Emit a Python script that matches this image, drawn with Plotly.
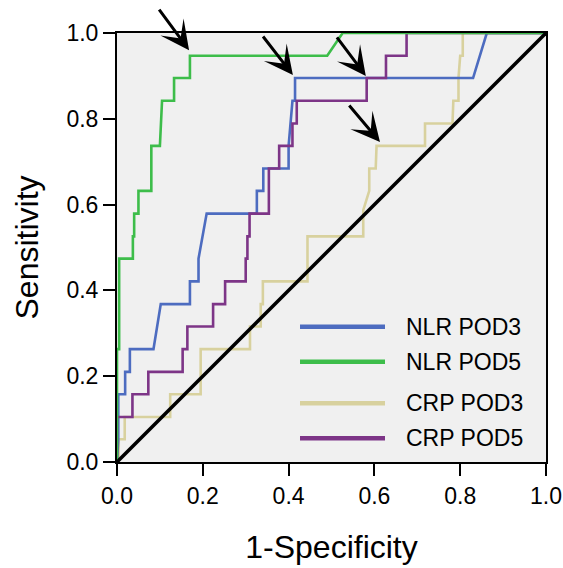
import plotly.graph_objects as go

# ROC curve vertices (1-Specificity, Sensitivity)
nlr_pod3_x = [0, 0.003, 0.003, 0.019, 0.019, 0.03, 0.03, 0.085, 0.102, 0.17, 0.17, 0.19, 0.19, 0.209,
              0.326, 0.326, 0.341, 0.341, 0.40, 0.40, 0.409, 0.415, 0.415, 0.83, 0.862, 1.0]
nlr_pod3_y = [0, 0.053, 0.158, 0.158, 0.21, 0.21, 0.263, 0.263, 0.368, 0.368, 0.421, 0.421, 0.474, 0.579,
              0.579, 0.632, 0.632, 0.684, 0.684, 0.737, 0.842, 0.842, 0.895, 0.895, 1.0, 1.0]

nlr_pod5_x = [0, 0, 0.005, 0.005, 0.037, 0.037, 0.04, 0.04, 0.05, 0.05, 0.08, 0.08, 0.10, 0.105,
              0.133, 0.133, 0.17, 0.17, 0.49, 0.526, 1.0]
nlr_pod5_y = [0, 0.263, 0.263, 0.474, 0.474, 0.526, 0.526, 0.579, 0.579, 0.632, 0.632, 0.737, 0.737, 0.842,
              0.842, 0.895, 0.895, 0.947, 0.947, 1.0, 1.0]

crp_pod3_x = [0, 0.004, 0.004, 0.018, 0.018, 0.124, 0.124, 0.195, 0.195, 0.31, 0.31, 0.335, 0.335, 0.34,
              0.34, 0.444, 0.444, 0.574, 0.574, 0.588, 0.588, 0.603, 0.605, 0.718, 0.718, 0.782, 0.784,
              0.796, 0.796, 0.80, 0.806, 0.806, 1.0]
crp_pod3_y = [0, 0, 0.053, 0.053, 0.105, 0.105, 0.158, 0.158, 0.263, 0.263, 0.316, 0.316, 0.368, 0.368,
              0.421, 0.421, 0.526, 0.526, 0.587, 0.632, 0.684, 0.684, 0.737, 0.737, 0.789, 0.789, 0.842,
              0.842, 0.895, 0.947, 0.947, 1.0, 1.0]

crp_pod5_x = [0, 0, 0.036, 0.036, 0.073, 0.073, 0.153, 0.153, 0.164, 0.164, 0.224, 0.224, 0.252, 0.252,
              0.30, 0.30, 0.304, 0.304, 0.309, 0.309, 0.354, 0.354, 0.378, 0.378, 0.409, 0.409, 0.419,
              0.419, 0.582, 0.582, 0.627, 0.627, 0.675, 0.675, 1.0]
crp_pod5_y = [0, 0.105, 0.105, 0.158, 0.158, 0.21, 0.21, 0.263, 0.263, 0.316, 0.316, 0.368, 0.368, 0.421,
              0.421, 0.474, 0.474, 0.526, 0.526, 0.579, 0.579, 0.684, 0.684, 0.737, 0.737, 0.789, 0.789,
              0.842, 0.842, 0.895, 0.895, 0.947, 0.947, 1.0, 1.0]

ref_x = [0, 1]
ref_y = [0, 1]

series_names = ["NLR POD3", "NLR POD5", "CRP POD3", "CRP POD5"]
series_colors = ["#4d6cc0", "#3dbd4a", "#d8d19e", "#7d3587"]
tick_vals = [0.0, 0.2, 0.4, 0.6, 0.8, 1.0]
tick_text = ["0.0", "0.2", "0.4", "0.6", "0.8", "1.0"]

# arrow tips (data coords) and pixel offsets of their tails
arrow_tips = [(0.168, 0.960), (0.410, 0.902), (0.580, 0.900), (0.613, 0.746)]
arrow_offsets = [(-31, -42), (-31, -40), (-30, -40), (-32, -38)]

FONT = "Arial, Liberation Sans, sans-serif"

fig = go.Figure()
xs = [nlr_pod3_x, nlr_pod5_x, crp_pod3_x, crp_pod5_x]
ys = [nlr_pod3_y, nlr_pod5_y, crp_pod3_y, crp_pod5_y]
for i in [2, 0, 3, 1]:
    fig.add_trace(go.Scatter(x=xs[i], y=ys[i], mode="lines", name=series_names[i],
                             line=dict(color=series_colors[i], width=2.6), showlegend=False))
fig.add_trace(go.Scatter(x=ref_x, y=ref_y, mode="lines", line=dict(color="black", width=3.5),
                         showlegend=False))

# manual legend
leg_y = [0.3154, 0.2338, 0.1368, 0.0552]
for name, col, yy in zip(series_names, series_colors, leg_y):
    fig.add_shape(type="line", xref="paper", yref="paper", x0=0.4266, x1=0.6247, y0=yy, y1=yy,
                  line=dict(color=col, width=4.5))
    fig.add_annotation(xref="paper", yref="paper", x=0.668, y=yy, text=name, showarrow=False,
                       xanchor="left", yanchor="middle", font=dict(family=FONT, size=23, color="black"))

for (tx, ty), (ax, ay) in zip(arrow_tips, arrow_offsets):
    fig.add_annotation(x=tx, y=ty, ax=ax, ay=ay, xref="x", yref="y", text="", showarrow=True,
                       arrowhead=3, arrowsize=1.6, arrowwidth=3, arrowcolor="black", standoff=0)

axis_common = dict(range=[0, 1], tickvals=tick_vals, ticktext=tick_text, showgrid=False, zeroline=False,
                   showline=True, linecolor="black", linewidth=2, mirror=True, ticks="outside",
                   ticklen=12, tickwidth=2, tickcolor="black", automargin=False,
                   tickfont=dict(family=FONT, size=23, color="black"))

fig.update_layout(
    width=563, height=568,
    margin=dict(l=117, r=17, t=33, b=106),
    paper_bgcolor="white", plot_bgcolor="#f0f0f0",
    xaxis=dict(**axis_common, title=dict(text="1-Specificity", font=dict(family=FONT, size=32, color="black"),
                                         standoff=28)),
    yaxis=dict(**axis_common, title=dict(text="Sensitivity", font=dict(family=FONT, size=32, color="black"),
                                         standoff=18)),
    showlegend=False,
)

fig.write_html("out.html")
